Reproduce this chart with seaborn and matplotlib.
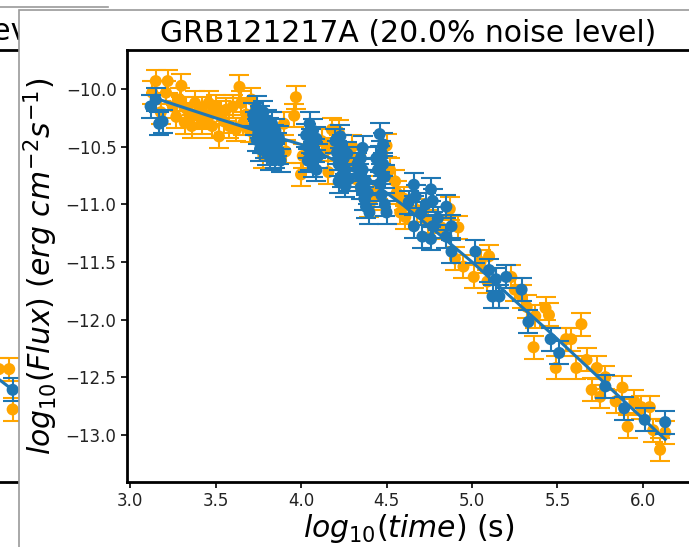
import seaborn as sns
import matplotlib.pyplot as plt
import pandas as pd
import numpy as np
from matplotlib.patches import Rectangle
from matplotlib.lines import Line2D

# blue = observed light curve, orange = simulated with 20% noise
obs_time = [3.12, 3.15, 3.17, 3.19,
            3.72, 3.73, 3.74, 3.75, 3.76, 3.77, 3.77, 3.78, 3.79, 3.79, 3.80, 3.80, 3.81,
            3.82, 3.82, 3.83, 3.83, 3.84, 3.85, 3.85, 3.86, 3.87, 3.87, 3.88, 3.76, 3.74,
            4.03, 4.04, 4.05, 4.05, 4.06, 4.07, 4.07, 4.08, 4.09, 4.09, 4.10, 4.04,
            4.20, 4.21, 4.22, 4.23, 4.24, 4.24, 4.25, 4.26, 4.26, 4.27, 4.28, 4.22,
            4.36, 4.33, 4.34, 4.35, 4.36, 4.37, 4.38, 4.38, 4.39, 4.40, 4.35,
            4.46, 4.44, 4.45, 4.46, 4.47, 4.47, 4.48, 4.49, 4.49, 4.50, 4.48,
            4.63, 4.66, 4.67, 4.76, 4.77, 4.85, 4.66, 4.71, 4.76, 4.77, 4.88, 4.88, 4.85,
            4.70, 4.80, 4.73,
            5.02, 5.10, 5.14, 5.12, 5.16, 5.20, 5.29, 5.33, 5.46, 5.51, 5.78, 5.89, 6.01, 6.13]
obs_flux = [-10.15, -10.09, -10.30, -10.28,
            -10.22, -10.30, -10.16, -10.38, -10.25, -10.45, -10.33, -10.20, -10.50, -10.40, -10.28, -10.56, -10.35,
            -10.46, -10.60, -10.30, -10.52, -10.41, -10.58, -10.36, -10.48, -10.55, -10.42, -10.62, -10.52, -10.44,
            -10.40, -10.50, -10.30, -10.60, -10.45, -10.36, -10.66, -10.53, -10.43, -10.70, -10.58, -10.62,
            -10.45, -10.55, -10.65, -10.41, -10.75, -10.50, -10.60, -10.84, -10.70, -10.56, -10.78, -10.80,
            -10.51, -10.65, -10.75, -10.85, -10.70, -10.95, -10.80, -11.02, -10.90, -11.07, -10.60,
            -10.39, -10.60, -10.70, -10.82, -10.55, -10.92, -10.65, -11.00, -10.76, -11.07, -10.48,
            -10.98, -10.83, -10.93, -10.87, -10.97, -11.02, -11.19, -11.28, -11.30, -11.19, -11.19, -11.41, -11.28,
            -11.08, -11.12, -11.00,
            -11.41, -11.57, -11.65, -11.80, -11.80, -11.63, -11.74, -12.02, -12.17, -12.29, -12.58, -12.77, -12.87, -12.89]
obs_err = 0.10

sim_time = [3.13, 3.15, 3.21, 3.22, 3.27, 3.30, 3.32, 3.36, 3.36, 3.40, 3.42, 3.42, 3.46, 3.48, 3.50,
            3.52, 3.53, 3.56, 3.62, 3.64, 3.68, 3.71, 3.78, 3.90, 3.91, 3.96, 3.97, 4.00, 4.01,
            3.38, 3.44, 3.47, 3.55, 3.58, 3.60, 3.66, 3.70, 3.65, 3.33, 3.25, 3.18, 3.29,
            4.16, 4.16, 4.18, 4.22, 4.22, 4.29, 4.32, 4.32, 4.40, 4.50, 4.52, 4.56, 4.58, 4.61,
            4.68, 4.74, 4.82, 4.60, 4.55, 4.45, 4.42, 4.30, 4.12,
            4.87, 4.92, 4.90, 4.95, 5.01, 5.09, 5.10, 5.05, 5.23, 5.25, 5.29, 5.32, 5.37, 5.43,
            5.45, 5.36, 5.49, 5.55, 5.58, 5.61, 5.64, 5.67, 5.70, 5.73, 5.75, 5.78, 5.84, 5.88,
            5.91, 5.95, 5.99, 6.04, 6.06, 6.10, 6.13]
sim_flux = [-10.03, -9.93, -10.03, -9.93, -10.24, -9.97, -10.29, -10.22, -10.32, -10.23, -10.17, -10.29, -10.12, -10.32, -10.15,
            -10.41, -10.20, -10.18, -10.35, -9.98, -10.22, -10.09, -10.58, -10.30, -10.54, -10.23, -10.07, -10.74, -10.58,
            -10.12, -10.25, -10.22, -10.28, -10.32, -10.15, -10.30, -10.36, -10.12, -10.17, -10.15, -10.20, -10.09,
            -10.52, -10.72, -10.35, -10.37, -10.50, -10.61, -10.67, -10.78, -11.01, -10.49, -10.70, -10.90, -11.07, -11.11,
            -11.05, -11.15, -11.20, -10.95, -10.80, -10.85, -10.95, -10.50, -10.45,
            -11.04, -11.20, -11.47, -11.54, -11.63, -11.67, -11.45, -11.50, -11.63, -11.74, -11.80, -11.89, -11.97, -11.90,
            -11.96, -12.24, -12.42, -12.17, -12.17, -12.42, -12.04, -12.35, -12.61, -12.42, -12.67, -12.50, -12.71, -12.59,
            -12.93, -12.71, -12.76, -12.76, -12.96, -13.13, -12.98]
sim_err = 0.10

# fitted model curve
fit_time = [3.15, 3.5, 3.8, 4.0, 4.2, 4.4, 4.6, 4.8, 5.0, 5.5, 6.13]
fit_flux = [-10.08, -10.25, -10.39, -10.48, -10.62, -10.79, -11.01, -11.25, -11.50, -12.17, -13.04]

# neighbouring panel, only its right edge shows
nb_time = [6.12, 6.18, 6.20]
nb_flux = [-12.43, -12.43, -12.78]
nb_obs_time = [6.20]
nb_obs_flux = [-12.61]
nb_fit_time = [6.05, 6.20]
nb_fit_flux = [-12.44, -12.61]

blue = "#1f77b4"
orange = "orange"

obs = pd.DataFrame({"t": obs_time, "f": obs_flux})
sim = pd.DataFrame({"t": sim_time, "f": sim_flux})
fit = pd.DataFrame({"t": fit_time, "f": fit_flux})

W, H = 689, 547
fig = plt.figure(figsize=(W / 100, H / 100), dpi=100)


def draw(ax, s, o, ft):
    ax.errorbar(s["t"], s["f"], yerr=sim_err, fmt="none", ecolor=orange,
                elinewidth=1.5, capsize=7, capthick=1.5, zorder=1)
    sns.scatterplot(data=s, x="t", y="f", color=orange, s=75, edgecolor="none", ax=ax, zorder=2)
    sns.lineplot(data=ft, x="t", y="f", color=blue, lw=2.2, ax=ax, zorder=3)
    ax.errorbar(o["t"], o["f"], yerr=obs_err, fmt="none", ecolor=blue,
                elinewidth=1.5, capsize=7, capthick=1.5, zorder=4)
    sns.scatterplot(data=o, x="t", y="f", color=blue, s=75, edgecolor="none", ax=ax, zorder=5)


# neighbour axes (mostly hidden under the panel)
nb = fig.add_axes([-420 / W, 1 - 482 / H, 460 / W, 432 / H], zorder=0)
draw(nb, pd.DataFrame({"t": nb_time, "f": nb_flux}),
     pd.DataFrame({"t": nb_obs_time, "f": nb_obs_flux}),
     pd.DataFrame({"t": nb_fit_time, "f": nb_fit_flux}))
nb.set_xlim(3.67, 6.36)
nb.set_ylim(-13.41, -9.66)
nb.set_xticks([])
nb.set_yticks([])
nb.set_xlabel("")
nb.set_ylabel("")
for sp in nb.spines.values():
    sp.set_linewidth(2)
fig.text(-16 / W, 1 - 40 / H, "level)", fontsize=21.5, va="baseline", zorder=0.5)

# white panel of the main figure
fig.add_artist(Rectangle((19 / W, -0.1), 1.0, 1.1 - 10 / H, transform=fig.transFigure,
                         facecolor="white", edgecolor="#999999", lw=1.2, zorder=1))
fig.add_artist(Line2D([0, 108 / W], [1 - 7 / H, 1 - 7 / H], transform=fig.transFigure,
                      color="#999999", lw=1.2, zorder=1))

ax = fig.add_axes([127 / W, 1 - 482 / H, 563 / W, 432 / H], zorder=2)
draw(ax, sim, obs, fit)

ax.set_xlim(2.982, 6.275)
ax.set_ylim(-13.41, -9.66)
ax.set_xticks([3.0, 3.5, 4.0, 4.5, 5.0, 5.5, 6.0])
ax.set_yticks([-10.0, -10.5, -11.0, -11.5, -12.0, -12.5, -13.0])
ax.tick_params(labelsize=12, width=1.2, length=4, labelcolor="#222222")
for sp in ax.spines.values():
    sp.set_linewidth(2)

ax.set_title("GRB121217A (20.0% noise level)", fontsize=21.5)
ax.set_xlabel(r"$log_{10}(time)$ (s)", fontsize=21.5, labelpad=1)
ax.set_ylabel(r"$log_{10}(Flux)$ $(erg\ cm^{-2}s^{-1})$", fontsize=21.5)

fig.savefig("out.png", dpi=100)
